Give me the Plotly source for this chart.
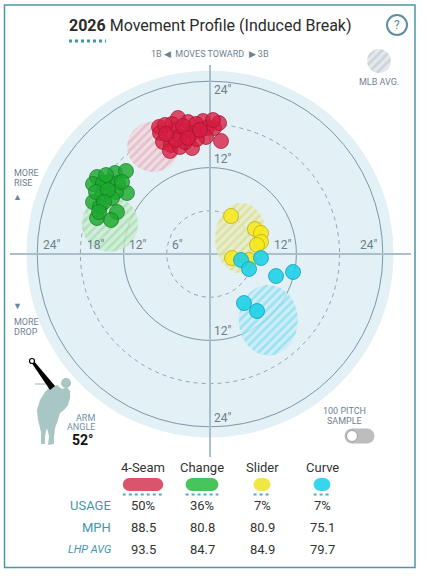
import numpy as np
import plotly.graph_objects as go

# ---------------- data (inches of break) ----------------
pitch_names = ["4-Seam", "Change", "Slider", "Curve"]
usage = [50, 36, 7, 7]
mph = [88.5, 80.8, 80.9, 75.1]
lhp_avg = [93.5, 84.7, 84.9, 79.7]

fourseam_x = [-7.08, -6.94, -4.44, -3.06, -5.0, -3.47, -4.17, -2.36, -0.97, -0.42, 0.56, 1.25, -0.56, 1.53,
              -6.53, -5.42, -5.56, -4.17, -2.5, -3.47, -1.81, -5.28, -1.94, -6.25, -3.75, 0.42, -4.72, -1.39,
              -3.06, -6.11]
fourseam_y = [17.64, 16.81, 18.89, 18.33, 17.22, 17.08, 16.25, 16.81, 18.47, 17.5, 17.5, 18.19, 16.25, 15.69,
              15.56, 15.14, 14.31, 14.86, 14.72, 15.56, 15.97, 18.06, 18.06, 17.92, 17.78, 18.61, 15.83, 17.22,
              16.11, 16.67]
change_x = [-15.69, -16.25, -13.19, -11.67, -14.17, -12.78, -11.53, -13.06, -15.0, -16.25, -13.61, -15.28,
            -12.92, -15.69, -13.75, -14.86, -14.44, -15.83, -14.17, -12.22, -14.72, -15.42]
change_y = [10.69, 9.72, 11.25, 11.53, 10.0, 9.86, 8.47, 8.61, 8.19, 7.22, 7.78, 6.53, 5.83, 5.0, 4.72,
            9.86, 10.97, 8.61, 8.89, 10.0, 7.22, 5.83]
slider_x = [2.92, 6.25, 7.08, 7.08, 6.53, 3.06, 5.42]
slider_y = [5.28, 3.47, 2.92, 1.67, 1.25, -0.56, -0.83]
curve_x = [4.31, 5.42, 7.08, 9.17, 11.53, 4.72, 6.53]
curve_y = [-0.83, -2.08, -0.56, -3.06, -2.5, -6.81, -7.92]

# MLB average movement areas: centre x, centre y, radius x, radius y (inches)
mlb_cx = [-7.9, -13.9, 4.3, 8.1]
mlb_cy = [14.9, 4.2, 2.2, -9.2]
mlb_rx = [3.6, 3.9, 3.6, 4.1]
mlb_ry = [3.5, 3.9, 4.9, 4.9]

ring_values = [6, 12, 18, 24]
arm_angle = 52

# ---------------- styling ----------------
FONT = "Roboto"
S, CX, CY = 7.2, 210, 254  # px per inch, centre in px


def X(px):
    return (px - CX) / S


def Y(py):
    return (CY - py) / S


def W(px):
    return px / S


dot_colors = ["rgba(214,28,64,0.78)", "rgba(28,168,48,0.82)", "rgba(246,232,30,0.88)", "rgba(30,208,232,0.9)"]
dot_lines = ["rgba(160,20,45,0.7)", "rgba(20,120,35,0.7)", "rgba(190,175,20,0.8)", "rgba(20,160,185,0.8)"]
pill_colors = ["#d9546c", "#45c55a", "#f0e840", "#36d6ec"]
pat_bg = ["rgba(240,214,222,0.75)", "rgba(205,236,210,0.75)", "rgba(232,236,192,0.75)", "rgba(198,236,246,0.75)"]
pat_fg = ["rgba(224,140,160,0.75)", "rgba(125,208,135,0.75)", "rgba(205,208,95,0.75)", "rgba(70,208,232,0.75)"]
TEAL = "#3f97ad"
GRAY = "#6f8290"

fig = go.Figure()
shapes = []
ann = []

# outer disc
shapes.append(dict(type="circle", xref="x", yref="y", x0=-25.5, x1=25.5, y0=-25.5, y1=25.5,
                   fillcolor="#e3f0f5", line=dict(width=0), layer="below"))
for r in ring_values:
    dashed = r in (6, 18)
    shapes.append(dict(type="circle", xref="x", yref="y", x0=-r, x1=r, y0=-r, y1=r,
                       line=dict(color="#8fa5b2" if dashed else "#7d97a6", width=1,
                                 dash="4px,4px" if dashed else "solid"), layer="below"))
# axes
shapes.append(dict(type="line", xref="x", yref="y", x0=0, x1=0, y0=Y(65), y1=Y(457),
                   line=dict(color="#a9c0cc", width=2), layer="below"))
shapes.append(dict(type="line", xref="x", yref="y", x0=X(10), x1=X(411), y0=0, y1=0,
                   line=dict(color="#a9c0cc", width=2), layer="below"))

# MLB avg hatched areas
t = np.linspace(0, 2 * np.pi, 90)
for i in range(4):
    fig.add_trace(go.Scatter(
        x=mlb_cx[i] + mlb_rx[i] * np.cos(t), y=mlb_cy[i] + mlb_ry[i] * np.sin(t),
        mode="lines", line=dict(width=0), fill="toself", fillcolor=pat_bg[i],
        fillpattern=dict(shape="/", bgcolor=pat_bg[i], fgcolor=pat_fg[i], size=6, solidity=0.45),
        hoverinfo="skip", showlegend=False))

# MLB AVG legend icon
fig.add_trace(go.Scatter(
    x=X(379) + W(12) * np.cos(t), y=Y(61) + W(12) * np.sin(t),
    mode="lines", line=dict(width=0), fill="toself", fillcolor="#dfe5ea",
    fillpattern=dict(shape="/", bgcolor="#e4e9ed", fgcolor="#b3bec7", size=6, solidity=0.45),
    hoverinfo="skip", showlegend=False))

# pitches
series = [(fourseam_x, fourseam_y), (change_x, change_y), (slider_x, slider_y), (curve_x, curve_y)]
for i, (xs, ys) in enumerate(series):
    fig.add_trace(go.Scatter(x=xs, y=ys, mode="markers", name=pitch_names[i],
                             marker=dict(size=15, color=dot_colors[i], line=dict(color=dot_lines[i], width=1)),
                             showlegend=False))


def text(x, y, s, size=11, color=GRAY, xanchor="center", family=FONT):
    ann.append(dict(xref="x", yref="y", x=X(x), y=Y(y), text=s, showarrow=False, xanchor=xanchor,
                    yanchor="middle", font=dict(family=family, size=size, color=color)))


# ring labels
for s_, x_, y_, a_ in [("24\"", 212, 90, "left"), ("12\"", 212, 159, "left"),
                       ("24\"", 41, 245, "left"), ("18\"", 85, 245, "left"), ("12\"", 127, 245, "left"),
                       ("6\"", 170, 245, "left"), ("12\"", 293, 245, "right"), ("24\"", 379, 245, "right"),
                       ("12\"", 212, 331, "left"), ("24\"", 212, 418, "left")]:
    text(x_, y_, s_, size=12, color="#6b7e8c", xanchor=a_)

# title
text(210, 25, "<b>2026</b> Movement Profile (Induced Break)", size=16, color="#2b2b2b")
shapes.append(dict(type="line", xref="x", yref="y", x0=X(69), x1=X(106), y0=Y(41), y1=Y(41),
                   line=dict(color=TEAL, width=3, dash="3px,3px")))
# help icon
shapes.append(dict(type="circle", xref="x", yref="y", x0=X(387), x1=X(407), y0=Y(15), y1=Y(35),
                   line=dict(color="#5f8f9b", width=2), fillcolor="white"))
text(397, 25, "?", size=12, color="#5f8f9b")

text(210, 54, "1B ◀  MOVES TOWARD  ▶ 3B", size=9, color=GRAY)
text(379, 82, "MLB AVG.", size=9, color=GRAY)

text(12, 173, "MORE", size=9, color=GRAY, xanchor="left")
text(12, 183, "RISE", size=9, color=GRAY, xanchor="left")
text(17, 197, "▲", size=9, color="#5f8a9a")
text(17, 306, "▼", size=9, color="#5f8a9a")
text(12, 322, "MORE", size=9, color=GRAY, xanchor="left")
text(12, 332, "DROP", size=9, color=GRAY, xanchor="left")


# pitcher silhouette
def path(pts):
    return "M " + " L ".join(f"{X(a):.3f},{Y(b):.3f}" for a, b in pts) + " Z"


body = [(50, 387), (57, 385), (62, 389), (67, 387), (70, 391), (70, 398), (68, 405), (64, 410), (60, 413),
        (58, 420), (55, 428), (54, 437), (54, 444), (48, 445), (49, 436), (47, 428), (45, 436), (45, 444),
        (41, 444), (41, 432), (38, 420), (37, 410), (40, 400), (45, 392)]
shapes.append(dict(type="path", xref="x", yref="y", path=path(body), fillcolor="#a8c6c4", line=dict(width=0)))
shapes.append(dict(type="circle", xref="x", yref="y", x0=X(61), x1=X(71), y0=Y(378), y1=Y(388),
                   fillcolor="#a8c6c4", line=dict(width=0)))
shapes.append(dict(type="line", xref="x", yref="y", x0=X(35), x1=X(50), y0=Y(384), y1=Y(384),
                   line=dict(color="#cfdadc", width=2)))
shapes.append(dict(type="path", xref="x", yref="y", path=path([(31, 362), (33, 360), (55, 386), (50, 390)]),
                   fillcolor="black", line=dict(width=0)))
shapes.append(dict(type="circle", xref="x", yref="y", x0=X(29.5), x1=X(34.5), y0=Y(358.5), y1=Y(363.5),
                   fillcolor="white", line=dict(color="black", width=1.2)))
text(85, 418, "ARM", size=9, color="#6f93a8")
text(81, 427, "ANGLE", size=9, color="#6f93a8")
text(83, 440, f"<b>{arm_angle}°</b>", size=14, color="#111")

# 100 pitch sample toggle
text(344, 411, "100 PITCH", size=9, color=GRAY)
text(344, 421, "SAMPLE", size=9, color=GRAY)
shapes.append(dict(type="rect", xref="x", yref="y", x0=X(352), x1=X(367), y0=Y(428.5), y1=Y(443.5),
                   fillcolor="#bdbdbd", line=dict(width=0)))
shapes.append(dict(type="circle", xref="x", yref="y", x0=X(344.5), x1=X(359.5), y0=Y(428.5), y1=Y(443.5),
                   fillcolor="#bdbdbd", line=dict(width=0)))
shapes.append(dict(type="circle", xref="x", yref="y", x0=X(359.5), x1=X(374.5), y0=Y(428.5), y1=Y(443.5),
                   fillcolor="#bdbdbd", line=dict(width=0)))
shapes.append(dict(type="circle", xref="x", yref="y", x0=X(346.5), x1=X(357.5), y0=Y(430.5), y1=Y(441.5),
                   fillcolor="white", line=dict(color="#a0a0a0", width=1)))

# table
col_x = [143, 202, 262, 322]
for i, name in enumerate(pitch_names):
    cx = col_x[i]
    text(cx, 467, name, size=13, color="#333")
    w = 13 + 0.55 * usage[i]
    h = 13
    x0, x1 = cx - w / 2, cx + w / 2
    shapes.append(dict(type="rect", xref="x", yref="y", x0=X(x0 + h / 2), x1=X(x1 - h / 2), y0=Y(478), y1=Y(491),
                       fillcolor=pill_colors[i], line=dict(width=0)))
    for ex in (x0, x1 - h):
        shapes.append(dict(type="circle", xref="x", yref="y", x0=X(ex), x1=X(ex + h), y0=Y(478), y1=Y(491),
                           fillcolor=pill_colors[i], line=dict(width=0)))
    shapes.append(dict(type="line", xref="x", yref="y", x0=X(x0), x1=X(x1), y0=Y(494.5), y1=Y(494.5),
                       line=dict(color="#5aa8ba", width=2, dash="3px,3px")))
    text(cx, 505, f"{usage[i]}%", size=13, color="#333")
    text(cx, 527, f"{mph[i]:.1f}", size=13, color="#333")
    text(cx, 549, f"{lhp_avg[i]:.1f}", size=13, color="#333")

text(113, 505, "USAGE", size=13, color=TEAL, xanchor="right")
text(113, 527, "MPH", size=13, color=TEAL, xanchor="right")
text(113, 549, "<i>LHP AVG</i>", size=11, color=TEAL, xanchor="right")

# border
shapes.append(dict(type="rect", xref="x", yref="y", x0=X(4.5), x1=X(415), y0=Y(5), y1=Y(567.5),
                   line=dict(color="#4c98a5", width=1.5), fillcolor="rgba(0,0,0,0)"))

fig.update_layout(
    width=426, height=577, margin=dict(l=0, r=0, t=0, b=0),
    paper_bgcolor="white", plot_bgcolor="white",
    xaxis=dict(range=[X(0), X(426)], visible=False, fixedrange=True),
    yaxis=dict(range=[Y(577), Y(0)], visible=False, fixedrange=True),
    shapes=shapes, annotations=ann, showlegend=False,
    font=dict(family=FONT),
)
fig.write_html("out.html", config={"displayModeBar": False},
               post_script="document.body.style.margin='0';document.body.style.overflow='hidden';")
